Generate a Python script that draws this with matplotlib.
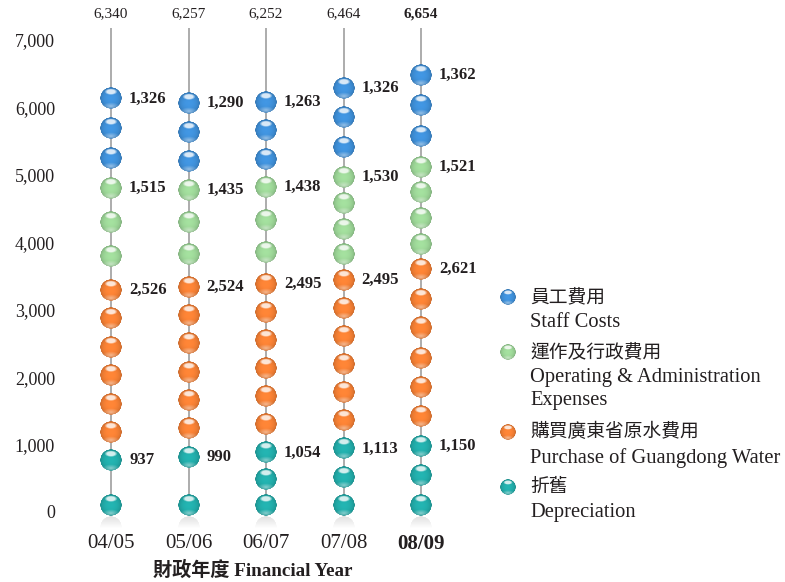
import numpy as np
import matplotlib
matplotlib.use('Agg')
import matplotlib.pyplot as plt
from matplotlib.offsetbox import OffsetImage, AnnotationBbox

plt.rcParams['font.family'] = ['Liberation Serif', 'Noto Sans CJK TC']

# data
years = ['04/05', '05/06', '06/07', '07/08', '08/09']
totals = [6340, 6257, 6252, 6464, 6654]
depreciation = [937, 990, 1054, 1113, 1150]
water = [2526, 2524, 2495, 2495, 2621]
operating = [1515, 1435, 1438, 1530, 1521]
staff = [1326, 1290, 1263, 1326, 1362]
# number of balls drawn for each segment
dep_balls = [2, 2, 3, 3, 3]
water_balls = [6, 6, 6, 6, 6]
op_balls = [3, 3, 3, 4, 4]
staff_balls = [3, 3, 3, 3, 3]

colors = {'staff': (0.24, 0.55, 0.83), 'op': (0.60, 0.82, 0.58),
          'water': (0.94, 0.49, 0.20), 'dep': (0.13, 0.66, 0.65)}
legend_cn = ['員工費用', '運作及行政費用', '購買廣東省原水費用', '折舊']
legend_en = ['Staff Costs', 'Operating & Administration\nExpenses',
             'Purchase of Guangdong Water', 'Depreciation']
TXT = '#231f20'


# ball_image()
# glossy sphere as an RGBA array
def ball_image(rgb, n=64):
    t = np.linspace(-1, 1, n)
    u, v = np.meshgrid(t, t)
    r = np.sqrt(u**2 + v**2)
    alpha = np.clip((1 - r) * n / 2, 0, 1)
    base = np.array(rgb)
    shade = 0.78 + 0.3 * np.sqrt(np.clip(1 - r**2, 0, 1))
    img = np.clip(base[None, None, :] * shade[..., None], 0, 1)
    glow = np.clip(1 - np.sqrt((u / 0.8)**2 + ((v - 0.75) / 0.35)**2), 0, 1) * 0.45
    img = img * (1 - glow[..., None]) + glow[..., None]
    hl = np.clip(1 - np.sqrt((u / 0.6)**2 + ((v + 0.58) / 0.3)**2), 0, 1)
    hl = np.clip(hl * 2.5, 0, 1) * 0.8
    img = img * (1 - hl[..., None]) + hl[..., None]
    return np.dstack([img, alpha])


# reflection under the bottom ball
def shadow_image(n=64):
    t = np.linspace(-1, 1, n)
    u, v = np.meshgrid(t, t)
    r = np.sqrt(u**2 + v**2)
    alpha = np.clip((1 - r) * n / 2, 0, 1) * np.clip(0.55 - (v + 1) * 0.5, 0, 1)
    g = np.full((n, n), 0.78)
    return np.dstack([g, g, g, alpha])


def put_image(axis, img, x, y, px, dy=0):
    zoom = px / (img.shape[0] * 100 / 72.)
    ab = AnnotationBbox(OffsetImage(img, zoom=zoom), (x, y), xybox=(0, dy),
                        boxcoords='offset points', frameon=False,
                        annotation_clip=False, pad=0, zorder=3)
    axis.add_artist(ab)


fig = plt.figure(figsize=(7.85, 5.82), dpi=100)
ax = fig.add_axes([70 / 785, 70 / 582, 390 / 785, 505.7 / 582])
ax.set_xlim(-0.529, 4.503)
ax.set_ylim(0, 7500)
for s in ax.spines.values():
    s.set_visible(False)
ax.set_yticks(range(0, 7001, 1000))
ax.set_yticklabels([f'{v:,}' for v in range(0, 7001, 1000)])
ax.set_xticks(range(len(years)))
ax.set_xticklabels(years)
ax.tick_params(axis='y', length=0, pad=10.8, labelsize=13, labelcolor=TXT)
ax.tick_params(axis='x', length=0, pad=16, labelsize=15, labelcolor=TXT)
ax.get_xticklabels()[-1].set_fontweight('bold')

ball_px = 22
gap = 170      # ball radius in data units
base = 104
line_top = 7180
imgs = {k: ball_image(c) for k, c in colors.items()}
shadow = shadow_image()

for i in range(len(years)):
    ax.vlines(i, 0, line_top, color='#a6a6a6', lw=1.3, zorder=1, clip_on=False)
    segs = [('dep', depreciation[i], dep_balls[i]), ('water', water[i], water_balls[i]),
            ('op', operating[i], op_balls[i]), ('staff', staff[i], staff_balls[i])]
    a = 0
    for key, val, n in segs:
        b = a + val
        if key == 'dep':
            ys = np.linspace(base, b - gap, n)
        else:
            ys = b - gap - np.arange(n) * val / n
        for y in ys:
            put_image(ax, imgs[key], i, y, ball_px)
        ax.annotate(f'{val:,}', (i, ys.max()), xytext=(13, 0), textcoords='offset points',
                    ha='left', va='center', fontsize=12, fontweight='bold', color=TXT)
        a = b
    put_image(ax, shadow, i, base, ball_px, dy=-ball_px * 0.72)
    ax.text(i, 7390, f'{totals[i]:,}', ha='center', va='center', fontsize=11, color=TXT,
            fontweight='bold' if i == len(years) - 1 else 'normal')

fig.text(253 / 785, 1 - 570 / 582, '財政年度 Financial Year', ha='center', va='center',
         fontsize=13.8, fontweight='bold', color=TXT)

# legend drawn in pixel space
lax = fig.add_axes([0, 0, 1, 1])
lax.set_xlim(0, 785)
lax.set_ylim(582, 0)
lax.axis('off')
leg_y = [297, 352, 432, 487]
for k, key in enumerate(['staff', 'op', 'water', 'dep']):
    put_image(lax, imgs[key], 508, leg_y[k], 16)
    lax.text(530, leg_y[k], legend_cn[k], ha='left', va='center', fontsize=13.5, color=TXT)
    lax.text(530, leg_y[k] + 16, legend_en[k], ha='left', va='top', fontsize=14.8,
             color=TXT, linespacing=1.32)

fig.savefig('out.png', dpi=100)
